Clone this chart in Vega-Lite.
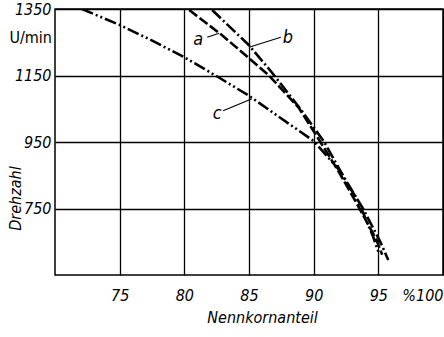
{
  "$schema": "https://vega.github.io/schema/vega-lite/v6.json",
  "autosize": {"type": "none"},
  "padding": {"left": 55, "top": 9, "right": 1, "bottom": 62},
  "width": 388,
  "height": 266,
  "background": "white",
  "config": {
    "view": {"stroke": "black", "strokeWidth": 1.5},
    "font": "DejaVu Sans Condensed",
    "axis": {
      "grid": true, "gridColor": "black", "gridOpacity": 1, "gridWidth": 1.3,
      "ticks": false, "domain": false, "format": "d",
      "labelFont": "DejaVu Sans Condensed", "labelFontStyle": "italic", "labelFontSize": 16, "labelColor": "black",
      "titleFont": "DejaVu Sans Condensed", "titleFontStyle": "italic", "titleFontWeight": "normal", "titleFontSize": 16, "titleColor": "black"
    }
  },
  "datasets": {
    "curves": [
      {"kurve": "a", "anteil": 80.38, "drehzahl": 1347},
      {"kurve": "a", "anteil": 82.92, "drehzahl": 1271},
      {"kurve": "a", "anteil": 85.0, "drehzahl": 1202},
      {"kurve": "a", "anteil": 86.54, "drehzahl": 1150},
      {"kurve": "a", "anteil": 88.85, "drehzahl": 1053},
      {"kurve": "a", "anteil": 90.38, "drehzahl": 959},
      {"kurve": "a", "anteil": 91.92, "drehzahl": 862},
      {"kurve": "a", "anteil": 93.46, "drehzahl": 756},
      {"kurve": "a", "anteil": 94.85, "drehzahl": 656},
      {"kurve": "a", "anteil": 95.3, "drehzahl": 611},
      {"kurve": "b", "anteil": 82.15, "drehzahl": 1347},
      {"kurve": "b", "anteil": 85.0, "drehzahl": 1241},
      {"kurve": "b", "anteil": 86.77, "drehzahl": 1159},
      {"kurve": "b", "anteil": 89.08, "drehzahl": 1044},
      {"kurve": "b", "anteil": 90.77, "drehzahl": 953},
      {"kurve": "b", "anteil": 92.3, "drehzahl": 847},
      {"kurve": "b", "anteil": 93.85, "drehzahl": 747},
      {"kurve": "b", "anteil": 95.15, "drehzahl": 650},
      {"kurve": "b", "anteil": 95.77, "drehzahl": 595},
      {"kurve": "c", "anteil": 72.08, "drehzahl": 1350},
      {"kurve": "c", "anteil": 75.0, "drehzahl": 1302},
      {"kurve": "c", "anteil": 77.3, "drehzahl": 1259},
      {"kurve": "c", "anteil": 80.0, "drehzahl": 1205},
      {"kurve": "c", "anteil": 82.54, "drehzahl": 1147},
      {"kurve": "c", "anteil": 85.0, "drehzahl": 1089},
      {"kurve": "c", "anteil": 88.08, "drehzahl": 1005},
      {"kurve": "c", "anteil": 90.0, "drehzahl": 953},
      {"kurve": "c", "anteil": 91.92, "drehzahl": 868},
      {"kurve": "c", "anteil": 93.46, "drehzahl": 771},
      {"kurve": "c", "anteil": 94.6, "drehzahl": 665},
      {"kurve": "c", "anteil": 95.0, "drehzahl": 620}
    ],
    "leaders": [
      {"kurve": "a", "x1": 81.77, "y1": 1265, "x2": 82.69, "y2": 1277},
      {"kurve": "b", "x1": 85.0, "y1": 1235, "x2": 87.46, "y2": 1265},
      {"kurve": "c", "x1": 83.0, "y1": 1044, "x2": 85.23, "y2": 1080}
    ],
    "labels": [
      {"text": "a", "anteil": 81.08, "drehzahl": 1256},
      {"text": "b", "anteil": 88.0, "drehzahl": 1262},
      {"text": "c", "anteil": 82.54, "drehzahl": 1035}
    ],
    "unit": [
      {"text": "U/min", "anteil": 70, "drehzahl": 1262}
    ]
  },
  "layer": [
    {
      "data": {"name": "curves"},
      "mark": {"type": "line", "color": "black", "strokeWidth": 2.6, "clip": true},
      "encoding": {
        "x": {"field": "anteil", "type": "quantitative",
          "scale": {"domain": [70, 100], "nice": false, "zero": false},
          "axis": {"values": [75, 80, 85, 90, 95, 100], "labelExpr": "datum.value == 100 ? '%100' : datum.label", "labelFlush": true, "labelPadding": 12, "title": "Nennkornanteil", "titleX": 207, "titleY": 34, "titleAnchor": "middle"}},
        "y": {"field": "drehzahl", "type": "quantitative",
          "scale": {"domain": [550, 1350], "nice": false, "zero": false},
          "axis": {"values": [750, 950, 1150, 1350], "labelPadding": 4, "title": "Drehzahl", "titleX": -40, "titleY": 189, "titleAlign": "center", "titleBaseline": "middle", "titleAngle": 270}},
        "detail": {"field": "kurve"},
        "strokeDash": {"field": "kurve", "type": "nominal",
          "scale": {"domain": ["a", "b", "c"], "range": [[10, 3], [12, 3, 2, 3], [12, 3, 2, 3, 2, 3]]},
          "legend": null}
      }
    },
    {
      "data": {"name": "leaders"},
      "mark": {"type": "rule", "color": "black", "strokeWidth": 1.2},
      "encoding": {
        "x": {"field": "x1", "type": "quantitative"},
        "x2": {"field": "x2"},
        "y": {"field": "y1", "type": "quantitative"},
        "y2": {"field": "y2"}
      }
    },
    {
      "data": {"name": "labels"},
      "mark": {"type": "text", "font": "DejaVu Sans Condensed", "fontStyle": "italic", "fontSize": 18, "color": "black", "align": "center", "baseline": "middle"},
      "encoding": {
        "x": {"field": "anteil", "type": "quantitative"},
        "y": {"field": "drehzahl", "type": "quantitative"},
        "text": {"field": "text"}
      }
    },
    {
      "data": {"name": "unit"},
      "mark": {"type": "text", "font": "DejaVu Sans Condensed", "fontSize": 16, "color": "black", "align": "right", "baseline": "middle", "dx": -3, "clip": false},
      "encoding": {
        "x": {"field": "anteil", "type": "quantitative"},
        "y": {"field": "drehzahl", "type": "quantitative"},
        "text": {"field": "text"}
      }
    }
  ]
}
